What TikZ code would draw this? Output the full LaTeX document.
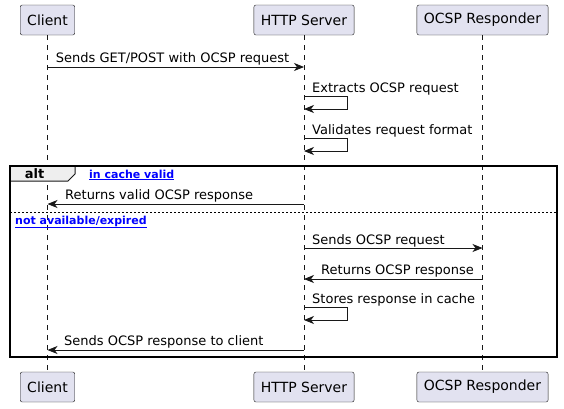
\documentclass[tikz,border=0pt]{standalone}
\usepackage{fontspec}
\setmainfont{DejaVu Sans}
\usetikzlibrary{arrows.meta}
\definecolor{partfill}{HTML}{E2E2F0}
\definecolor{ink}{HTML}{181818}
\definecolor{altfill}{HTML}{EEEEEE}
\tikzset{part/.style={draw=ink, fill=partfill, rounded corners=2pt,
  minimum height=30pt, inner xsep=7pt, font=\fontsize{14}{16}\selectfont},
  lifeline/.style={draw=ink, line width=0.5pt, dash pattern=on 5pt off 5pt},
  msg/.style={draw=ink, line width=0.8pt,
  -{Stealth[length=10pt, width=8pt, inset=3pt]}},
  lbl/.style={inner sep=0pt, anchor=base west, font=\fontsize{13}{15}\selectfont},
  guard/.style={inner sep=0pt, text=blue, font=\fontsize{11}{13}\selectfont\bfseries}}

\begin{document}
\begin{tikzpicture}[x=1pt, y=-1pt]
  \useasboundingbox (0,0) rectangle (564,408);
  % participants, top and bottom
  \node[part] (c) at (47.5, 20)  {Client};
  \node[part] (h) at (304, 20)   {HTTP Server};
  \node[part] (r) at (482.5, 20) {OCSP Responder};
  \node[part] (cb) at (47.5, 387)  {Client};
  \node[part] (hb) at (304, 387)   {HTTP Server};
  \node[part] (rb) at (482.5, 387) {OCSP Responder};
  \draw[lifeline] (c) -- (cb);
  \draw[lifeline] (h) -- (hb);
  \draw[lifeline] (r) -- (rb);
  % message ends on the lifelines
  \coordinate (c1) at (47.5, 67);  \coordinate (h1) at (304, 67);
  \coordinate (h2) at (304, 96);   \coordinate (h3) at (304, 138);
  \coordinate (c4) at (47.5, 204); \coordinate (h4) at (304, 204);
  \coordinate (h5) at (304, 248);  \coordinate (r5) at (482.5, 248);
  \coordinate (h6) at (304, 279);  \coordinate (r6) at (482.5, 279);
  \coordinate (h7) at (304, 307);
  \coordinate (c8) at (47.5, 350); \coordinate (h8) at (304, 350);
  % alt frame
  \draw[draw=ink, fill=altfill, line width=1pt]
    (10,166) -- (75,166) -- (75,174) -- (68,181) -- (10,181) -- cycle;
  \draw[line width=1.5pt] (10,166) rectangle (557,357);
  \draw[line width=0.8pt, dash pattern=on 2pt off 2pt] (10,212.5) -- (557,212.5);
  \node[font=\fontsize{13}{15}\selectfont\bfseries, inner sep=0pt] (alt) at (34.5,174) {alt};
  \node[guard, anchor=base west] (g1) at (89,178) {\underline{in cache valid}};
  \node[guard, anchor=base west] (g2) at (15,224) {\underline{not available/expired}};
  % messages
  \draw[msg] (c1) -- node[lbl, at start, xshift=8pt, yshift=5pt] {Sends GET/POST with OCSP request} (h1);
  \draw[msg] (h2) -- ++(43,0) -- ++(0,13) -- ++(-43,0);
  \node[lbl] (t2) at (312,92) {Extracts OCSP request};
  \draw[msg] (h3) -- ++(43,0) -- ++(0,13) -- ++(-43,0);
  \node[lbl] (t3) at (312,134) {Validates request format};
  \draw[msg] (h4) -- (c4);
  \node[lbl] (t4) at (65,199) {Returns valid OCSP response};
  \draw[msg] (h5) -- (r5);
  \node[lbl] (t5) at (312,244) {Sends OCSP request};
  \draw[msg] (r6) -- (h6);
  \node[lbl] (t6) at (321,274) {Returns OCSP response};
  \draw[msg] (h7) -- ++(43,0) -- ++(0,13) -- ++(-43,0);
  \node[lbl] (t7) at (312,303) {Stores response in cache};
  \draw[msg] (h8) -- (c8);
  \node[lbl] (t8) at (64,345) {Sends OCSP response to client};
\end{tikzpicture}
\end{document}
